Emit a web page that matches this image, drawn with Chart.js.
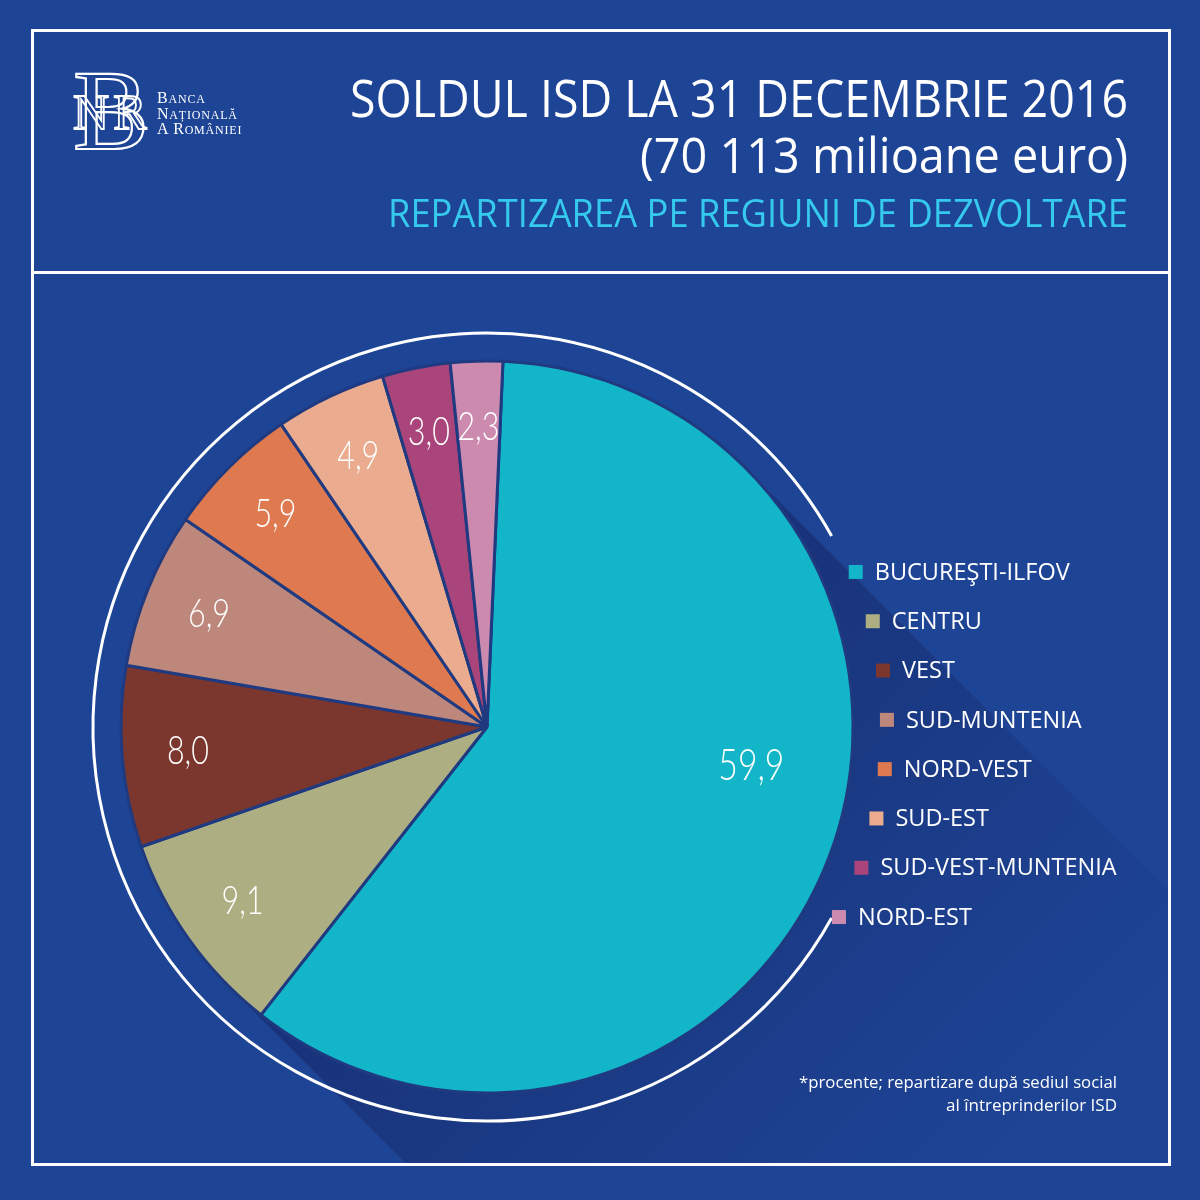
<!DOCTYPE html>
<html>
<head>
<meta charset="utf-8">
<title>Soldul ISD la 31 decembrie 2016</title>
<script src="https://cdn.jsdelivr.net/npm/chart.js@4.4.1/dist/chart.umd.min.js"></script>
<style>
  html, body { margin: 0; padding: 0; background: #1e4496; }
  #myChart { display: block; }
</style>
</head>
<body>
<canvas id="myChart" width="1200" height="1200"></canvas>
<script>
// data (percent of total FDI stock)
const regions = ["BUCUREŞTI-ILFOV", "CENTRU", "VEST", "SUD-MUNTENIA", "NORD-VEST", "SUD-EST", "SUD-VEST-MUNTENIA", "NORD-EST"];
const shares = [59.9, 9.1, 8.0, 6.9, 5.9, 4.9, 3.0, 2.3];
const colors = ['#13b6c8', '#adaf82', '#7b372e', '#bd877b', '#df7a50', '#eaab8f', '#a9457a', '#cc8aaf'];

const titleLines = ["SOLDUL ISD LA 31 DECEMBRIE 2016", "(70 113 milioane euro)"];
const subtitle = "REPARTIZAREA PE REGIUNI DE DEZVOLTARE";
const footnote = ["*procente; repartizare după sediul social", "al întreprinderilor ISD"];
const bankName = ["BANCA", "NAȚIONALĂ", "A ROMÂNIEI"];

const BG = '#1e4496';
const SANS = '"Open Sans", "Noto Sans", sans-serif';
const fmt = v => v.toFixed(1).replace('.', ',');

// small caps helper for the bank name next to the logo
function smallCaps(ctx, text, x, y, big, small) {
  let cx = x;
  for (let i = 0; i < text.length; i++) {
    const ch = text[i];
    const first = i === 0 || text[i - 1] === ' ';
    ctx.font = (first ? big : small) + 'px "Liberation Serif", serif';
    ctx.fillText(ch, cx, y);
    cx += ctx.measureText(ch).width + 0.8;
  }
}

// spread label angles of neighbouring thin slices so the values don't collide
function spreadAngles(arcs, r, gap) {
  const ang = arcs.map(a => (a.startAngle + a.endAngle) / 2);
  for (let pass = 0; pass < 20; pass++) {
    for (let i = 1; i < ang.length; i++) {
      const d = (ang[i] - ang[i - 1]) * r;
      if (d < gap) {
        const push = (gap - d) / 2 / r;
        ang[i - 1] = Math.max(arcs[i - 1].startAngle + 0.015, ang[i - 1] - push);
        ang[i] = Math.min(arcs[i].endAngle - 0.015, ang[i] + push);
      }
    }
  }
  return ang;
}

const poster = {
  id: 'poster',
  beforeDraw(chart) {
    const ctx = chart.ctx;
    const arc = chart.getDatasetMeta(0).data[0];
    const cx = arc.x, cy = arc.y, R = arc.outerRadius;
    ctx.save();
    ctx.fillStyle = BG;
    ctx.fillRect(0, 0, chart.width, chart.height);

    // long shadow toward the bottom right
    ctx.save();
    ctx.beginPath();
    ctx.rect(34, 274, 1134, 889);
    ctx.clip();
    const d = Math.SQRT1_2, L = 900;
    const p1 = [cx + R * d, cy - R * d], p2 = [cx - R * d, cy + R * d];
    const g = ctx.createLinearGradient(cx, cy, cx + 480, cy + 480);
    g.addColorStop(0, 'rgba(22, 44, 110, 0.8)');
    g.addColorStop(0.55, 'rgba(22, 44, 110, 0.35)');
    g.addColorStop(1, 'rgba(22, 44, 110, 0)');
    ctx.fillStyle = g;
    ctx.beginPath();
    ctx.moveTo(p1[0], p1[1]);
    ctx.lineTo(p1[0] + L, p1[1] + L);
    ctx.lineTo(p2[0] + L, p2[1] + L);
    ctx.lineTo(p2[0], p2[1]);
    ctx.closePath();
    ctx.fill();
    ctx.restore();

    // frame
    ctx.strokeStyle = '#ffffff';
    ctx.lineWidth = 3;
    ctx.strokeRect(32.5, 30.5, 1137, 1134);
    ctx.beginPath();
    ctx.moveTo(32, 272.5);
    ctx.lineTo(1170, 272.5);
    ctx.stroke();

    // white ring around the pie, open on the legend side
    ctx.lineWidth = 3;
    ctx.beginPath();
    ctx.arc(cx, cy, R + 28, 29 * Math.PI / 180, 331 * Math.PI / 180);
    ctx.stroke();
    ctx.restore();
  },
  afterDatasetsDraw(chart) {
    const ctx = chart.ctx;
    const meta = chart.getDatasetMeta(0);
    const cx = meta.data[0].x, cy = meta.data[0].y;
    ctx.save();

    // slice values
    ctx.fillStyle = '#ffffff';
    ctx.textAlign = 'center';
    ctx.textBaseline = 'middle';
    const props = meta.data.map(a => a.getProps(['x', 'y', 'startAngle', 'endAngle', 'outerRadius'], true));
    const R = props[0].outerRadius;
    const labelR = R * 0.82;
    const angles = spreadAngles(props, labelR, 50);
    props.forEach((p, i) => {
      let mid = angles[i];
      let rr = labelR;
      let size = 40, w = 42;
      if (shares[i] > 50) {
        mid -= 12 * Math.PI / 180;
        rr = R * 0.73;
        size = 44; w = 66;
      }
      ctx.font = '300 ' + size + 'px Lato, "Open Sans", sans-serif';
      ctx.fillText(fmt(shares[i]), p.x + Math.cos(mid) * rr, p.y + Math.sin(mid) * rr, w);
    });

    // legend laid out along a circle concentric with the pie
    const legendR = 400, step = 49.3;
    ctx.textAlign = 'left';
    ctx.font = '23.5px ' + SANS;
    regions.forEach((name, i) => {
      const y = cy + 17.5 + (i - 3.5) * step;
      const dy = y - cy;
      const x = cx + Math.sqrt(legendR * legendR - dy * dy);
      ctx.fillStyle = colors[i];
      ctx.fillRect(x - 7, y - 7, 14, 14);
      ctx.fillStyle = '#ffffff';
      ctx.fillText(name, x + 19, y + 1);
    });

    // titles
    ctx.textAlign = 'right';
    ctx.textBaseline = 'alphabetic';
    ctx.fillStyle = '#ffffff';
    ctx.font = '52px ' + SANS;
    ctx.fillText(titleLines[0], 1128, 117, 778);
    ctx.font = '50px ' + SANS;
    ctx.fillText(titleLines[1], 1128, 173, 488);
    ctx.fillStyle = '#35c9ee';
    ctx.font = '38px ' + SANS;
    ctx.fillText(subtitle, 1128, 227, 740);

    // footnote
    ctx.fillStyle = '#ffffff';
    ctx.font = '17px ' + SANS;
    ctx.fillText(footnote[0], 1117, 1088, 318);
    ctx.fillText(footnote[1], 1117, 1111, 175);

    // logo: stylised BNR monogram and bank name
    ctx.textAlign = 'center';
    ctx.strokeStyle = '#ffffff';
    ctx.fillStyle = '#ffffff';
    ctx.lineWidth = 2.2;
    ctx.font = '114px "Liberation Serif", serif';
    ctx.strokeText('B', 111, 149);
    ctx.font = '50px "Liberation Serif", serif';
    ctx.lineWidth = 1.8;
    ctx.strokeText('N', 91, 129);
    ctx.strokeText('R', 130, 129);
    ctx.textAlign = 'left';
    bankName.forEach((t, i) => smallCaps(ctx, t, 157, 103 + i * 15.5, 16, 12));
    ctx.restore();
  }
};

const myChart = new Chart('myChart', {
  type: 'pie',
  data: {
    labels: regions,
    datasets: [{
      data: shares,
      backgroundColor: colors,
      borderColor: '#1f3a80',
      borderWidth: 3,
      hoverOffset: 0,
      radius: 366
    }]
  },
  options: {
    responsive: false,
    animation: false,
    rotation: 2.5,
    layout: { padding: { left: 107, right: 333, top: 347, bottom: 93 } },
    plugins: {
      legend: { display: false },
      tooltip: { enabled: false },
      title: { display: false }
    }
  },
  plugins: [poster]
});
</script>
</body>
</html>
